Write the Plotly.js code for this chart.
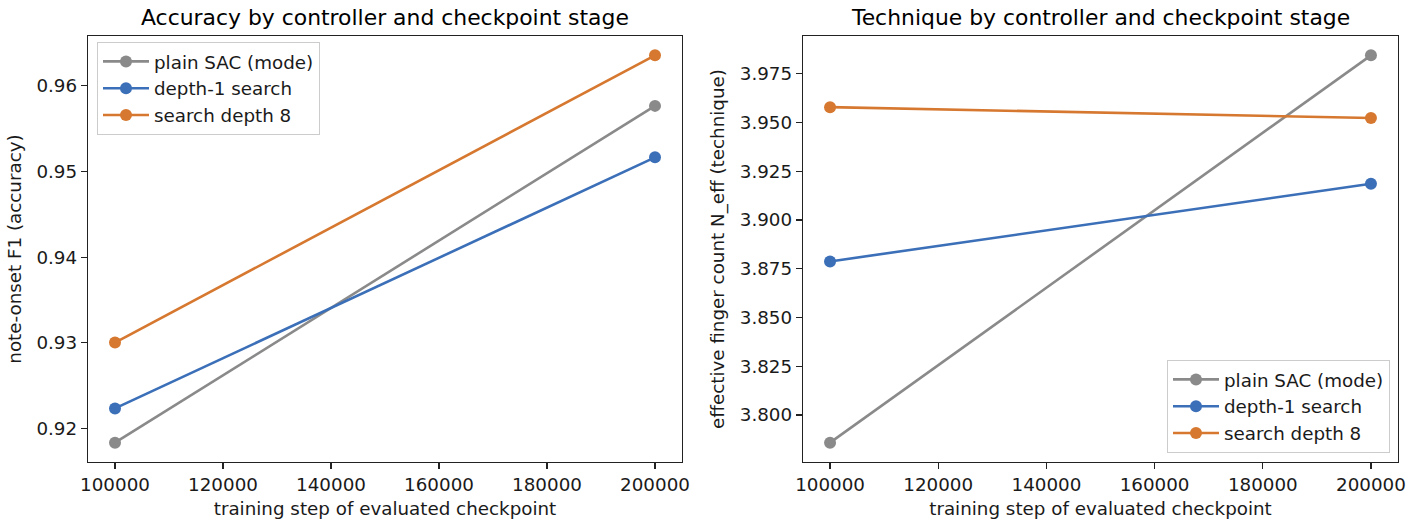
<!DOCTYPE html>
<html>
<head>
<meta charset="utf-8">
<script src="https://cdn.plot.ly/plotly-3.0.1.min.js"></script>
<style>html,body{margin:0;padding:0;background:#fff;}#chart{width:1422px;height:522px;}</style>
</head>
<body>
<div id="chart"></div>
<script>
// ---- data ----
const steps = [100000, 200000];
const seriesNames = ["plain SAC (mode)", "depth-1 search", "search depth 8"];
const accPlain = [0.91837, 0.95763];
const accDepth1 = [0.92236, 0.95163];
const accDepth8 = [0.93004, 0.96352];
const techPlain = [3.78586, 3.98434];
const techDepth1 = [3.87873, 3.91852];
const techDepth8 = [3.95779, 3.95225];
const xTicks = [100000, 120000, 140000, 160000, 180000, 200000];
const titles = ["Accuracy by controller and checkpoint stage", "Technique by controller and checkpoint stage"];
const xLabel = "training step of evaluated checkpoint";
const yLabels = ["note-onset F1 (accuracy)", "effective finger count N_eff (technique)"];

const colors = ["#8a8a8a", "#3b6fb8", "#d6782f"];
const FONT = "DejaVu Sans, sans-serif";

function mk(x, y, i, xa, ya, leg) {
  return {
    x: x, y: y, name: seriesNames[i], type: "scatter", mode: "lines+markers",
    xaxis: xa, yaxis: ya, legend: leg,
    line: {color: colors[i], width: 2.6},
    marker: {color: colors[i], size: 12}
  };
}
const data = [
  mk(steps, accPlain, 0, "x", "y", "legend"),
  mk(steps, accDepth1, 1, "x", "y", "legend"),
  mk(steps, accDepth8, 2, "x", "y", "legend"),
  mk(steps, techPlain, 0, "x2", "y2", "legend2"),
  mk(steps, techDepth1, 1, "x2", "y2", "legend2"),
  mk(steps, techDepth8, 2, "x2", "y2", "legend2")
];

function rng(arrs) {
  const all = [].concat(...arrs);
  const mn = Math.min(...all), mx = Math.max(...all), m = (mx - mn) * 0.05;
  return [mn - m, mx + m];
}
const xr = [steps[0] - (steps[1]-steps[0])*0.05, steps[1] + (steps[1]-steps[0])*0.05];

const axBase = {
  showline: true, mirror: true, linecolor: "#222", linewidth: 1.2,
  ticks: "outside", ticklen: 6, tickwidth: 1.2, tickcolor: "#222",
  showgrid: false, zeroline: false,
  tickfont: {family: FONT, size: 18.3, color: "#1a1a1a"},
  automargin: false
};
const H = 522;
const yDom = [(H-462)/H, (H-36)/H];
const legFont = {family: FONT, size: 18.3, color: "#1a1a1a"};
const layout = {
  width: 1422, height: 522,
  margin: {l: 0, r: 0, t: 0, b: 0},
  paper_bgcolor: "#fff", plot_bgcolor: "#fff",
  font: {family: FONT, size: 18, color: "#1a1a1a"},
  xaxis: Object.assign({}, axBase, {domain: [88/1422, 682/1422], anchor: "y", range: xr,
    tickvals: xTicks, tickformat: "d",
    title: {text: xLabel, font: {family: FONT, size: 18.3, color: "#1a1a1a"}, standoff: 8}}),
  yaxis: Object.assign({}, axBase, {domain: yDom, anchor: "x", range: rng([accPlain, accDepth1, accDepth8]),
    dtick: 0.01, tick0: 0.92, tickformat: ".2f",
    title: {text: yLabels[0], font: {family: FONT, size: 18.3, color: "#1a1a1a"}, standoff: 10}}),
  xaxis2: Object.assign({}, axBase, {domain: [803/1422, 1398/1422], anchor: "y2", range: xr,
    tickvals: xTicks, tickformat: "d",
    title: {text: xLabel, font: {family: FONT, size: 18.3, color: "#1a1a1a"}, standoff: 8}}),
  yaxis2: Object.assign({}, axBase, {domain: yDom, anchor: "x2", range: rng([techPlain, techDepth1, techDepth8]),
    dtick: 0.025, tick0: 3.8, tickformat: ".3f",
    title: {text: yLabels[1], font: {family: FONT, size: 18.3, color: "#1a1a1a"}, standoff: 10}}),
  legend: {x: 97/1422, y: 1-42/H, xanchor: "left", yanchor: "top", xref: "paper", yref: "paper",
    bgcolor: "rgba(255,255,255,0.8)", bordercolor: "#cccccc", borderwidth: 1, itemwidth: 46,
    font: legFont, tracegroupgap: 0},
  legend2: {x: 1390/1422, y: 1-453/H, xanchor: "right", yanchor: "bottom", xref: "paper", yref: "paper",
    bgcolor: "rgba(255,255,255,0.8)", bordercolor: "#cccccc", borderwidth: 1, itemwidth: 46,
    font: legFont, tracegroupgap: 0},
  showlegend: true,
  annotations: [
    {text: titles[0], x: (88+682)/2/1422, y: 1-18/H, xref: "paper", yref: "paper", showarrow: false,
     xanchor: "center", yanchor: "middle", font: {family: FONT, size: 21.9, color: "#000"}},
    {text: titles[1], x: (803+1398)/2/1422, y: 1-18/H, xref: "paper", yref: "paper", showarrow: false,
     xanchor: "center", yanchor: "middle", font: {family: FONT, size: 21.9, color: "#000"}}
  ]
};
Plotly.newPlot("chart", data, layout, {staticPlot: true, displayModeBar: false});
</script>
</body>
</html>
